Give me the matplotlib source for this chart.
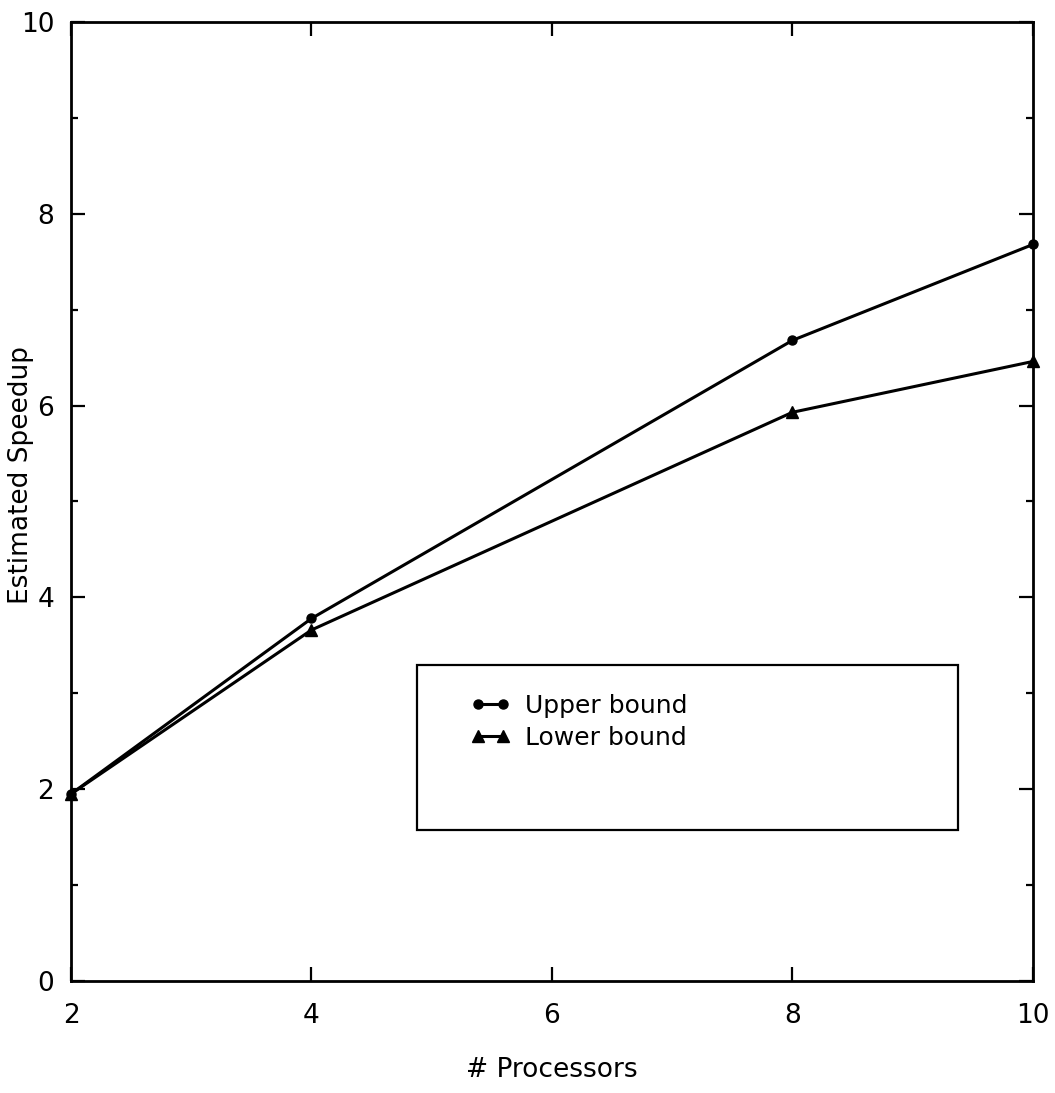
import matplotlib
matplotlib.use("Agg")
import matplotlib.pyplot as plt
from matplotlib.patches import Rectangle
from matplotlib.ticker import MultipleLocator

# speedup estimates per processor count
processors = [2, 4, 8, 10]
upper_bound = [1.95, 3.78, 6.68, 7.68]
lower_bound = [1.95, 3.66, 5.93, 6.46]

x_ticks = [2, 4, 6, 8, 10]
y_ticks = [0, 2, 4, 6, 8, 10]

plt.rcParams['font.family'] = ['DejaVu Sans']

fig = plt.figure(figsize=(10.55, 10.93), dpi=100)
ax = fig.add_axes([0.0673, 0.1025, 0.9118, 0.8774])

ax.plot(processors, upper_bound, color='black', lw=2.2, marker='o',
        markersize=6.5, label='Upper bound', clip_on=False, zorder=3)
ax.plot(processors, lower_bound, color='black', lw=2.2, marker='^',
        markersize=8.5, label='Lower bound', clip_on=False, zorder=3)

ax.set_xlim(2, 10)
ax.set_ylim(0, 10)
ax.set_xticks(x_ticks)
ax.set_yticks(y_ticks)
ax.yaxis.set_minor_locator(MultipleLocator(1))

ax.tick_params(which='both', direction='in', top=True, right=True,
               width=1.6, colors='black')
ax.tick_params(which='major', length=10, labelsize=19)
ax.tick_params(which='minor', length=5)
ax.tick_params(axis='x', pad=16)
ax.tick_params(axis='y', pad=12)

for s in ax.spines.values():
    s.set_linewidth(2.0)

ax.set_xlabel('# Processors', fontsize=19)
ax.set_ylabel('Estimated Speedup', fontsize=19)
ax.xaxis.set_label_coords(0.5, -0.079)
ax.yaxis.set_label_coords(-0.0385, 0.528)

# legend box is bigger than its entries, so draw the frame separately
ax.add_patch(Rectangle((0.3597, 0.1575), 0.5623, 0.172, transform=ax.transAxes,
                       fill=False, edgecolor='black', lw=1.6, zorder=4))
ax.legend(loc='upper left', bbox_to_anchor=(0.4148, 0.299), frameon=False,
          fontsize=18, numpoints=2, handlelength=1.6, handletextpad=0.6,
          borderpad=0, borderaxespad=0, labelspacing=0.3)

fig.savefig('out.png', dpi=100, facecolor='white')
